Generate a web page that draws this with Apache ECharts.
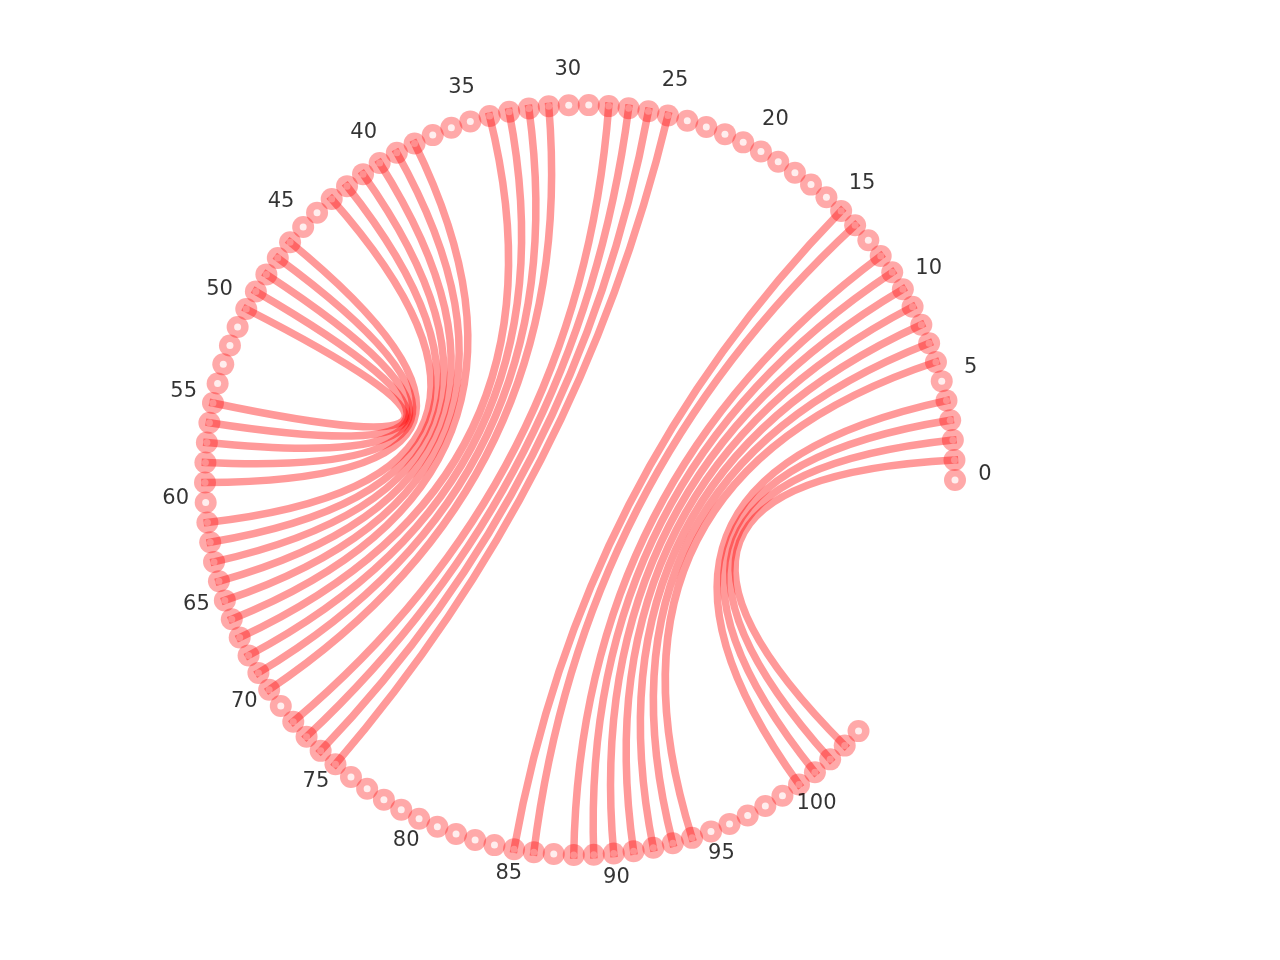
<!DOCTYPE html>
<html>
<head>
<meta charset="utf-8">
<script src="https://cdn.jsdelivr.net/npm/echarts@6/dist/echarts.min.js"></script>
<style>
html,body{margin:0;padding:0;background:#ffffff;}
#chart{width:1280px;height:960px;}
</style>
</head>
<body>
<div id="chart"></div>
<script>
// Angular extent of the circle, in node steps (positions after 104 are empty)
const slotCount = 117.75;

// Node indices drawn on the circle
const nodeIds = [
  0,1,2,3,4,5,6,7,8,9,10,11,12,13,14,15,16,17,18,19,
  20,21,22,23,24,25,26,27,28,29,30,31,32,33,34,35,36,37,38,39,
  40,41,42,43,44,45,46,47,48,49,50,51,52,53,54,55,56,57,58,59,
  60,61,62,63,64,65,66,67,68,69,70,71,72,73,74,75,76,77,78,79,
  80,81,82,83,84,85,86,87,88,89,90,91,92,93,94,95,96,97,98,99,
  100,101,102,103,104
];

// Paired nodes (edges)
const edgeSources = [1,2,3,4, 6,7,8,9,10,11,12,14,15, 25,26,27,28, 31,32,33,34, 38,39,40,41,42,43, 46,47,48,49,50];
const edgeTargets = [103,102,101,100, 94,93,92,91,90,89,88,86,85, 75,74,73,72, 70,69,68,67, 66,65,64,63,62,61, 59,58,57,56,55];

// Tick labels placed around the circle
const tickLabels = [0,5,10,15,20,25,30,35,40,45,50,55,60,65,70,75,80,85,90,95,100];

const RED_A = 'rgba(255,0,0,0.42)';
const LINE_A = 'rgba(255,0,0,0.40)';
const nodeR = 1;       // node ring radius (axis units)
const labelR = 1.08;   // label radius (axis units)

const nodeData = nodeIds.map(i => [nodeR, i]);
const edgeData = edgeSources.map((s, k) => [s, edgeTargets[k]]);
const labelData = tickLabels.map(t => [labelR, t]);

const chart = echarts.init(document.getElementById('chart'), null, {renderer: 'canvas'});
chart.setOption({
  backgroundColor: '#ffffff',
  animation: false,
  polar: { center: [580, 480], radius: 412.5 },
  angleAxis: {
    type: 'value', min: 0, max: slotCount, startAngle: 0, clockwise: false,
    show: false, axisLine: {show: false}, axisTick: {show: false},
    axisLabel: {show: false}, splitLine: {show: false}
  },
  radiusAxis: {
    type: 'value', min: 0, max: 1.1,
    show: false, axisLine: {show: false}, axisTick: {show: false},
    axisLabel: {show: false}, splitLine: {show: false}
  },
  series: [
    {
      type: 'scatter', coordinateSystem: 'polar', silent: true, z: 2,
      symbol: 'circle', symbolSize: 22,
      itemStyle: {color: RED_A},
      data: nodeData
    },
    {
      type: 'scatter', coordinateSystem: 'polar', silent: true, z: 3,
      symbol: 'circle', symbolSize: 7,
      itemStyle: {color: '#ffffff'},
      data: nodeData
    },
    {
      type: 'custom', coordinateSystem: 'polar', silent: true, z: 4,
      data: edgeData,
      renderItem: function (params, api) {
        const a = api.value(0), b = api.value(1);
        const p1 = api.coord([nodeR, a]);
        const p2 = api.coord([nodeR, b]);
        const c = api.coord([0, 0]);
        return {
          type: 'bezierCurve',
          shape: {x1: p1[0], y1: p1[1], x2: p2[0], y2: p2[1], cpx1: c[0], cpy1: c[1]},
          style: {stroke: LINE_A, lineWidth: 7.5, fill: null, lineCap: 'square'}
        };
      }
    },
    {
      type: 'scatter', coordinateSystem: 'polar', silent: true, z: 5,
      symbol: 'circle', symbolSize: 1,
      itemStyle: {color: 'transparent'},
      label: {
        show: true, position: 'inside', offset: [0, -5.5],
        formatter: p => String(p.value[1]),
        fontFamily: 'DejaVu Sans', fontSize: 21, fontWeight: 'normal',
        color: '#000000', textBorderWidth: 0, textShadowBlur: 0
      },
      data: labelData
    }
  ]
});
</script>
</body>
</html>
